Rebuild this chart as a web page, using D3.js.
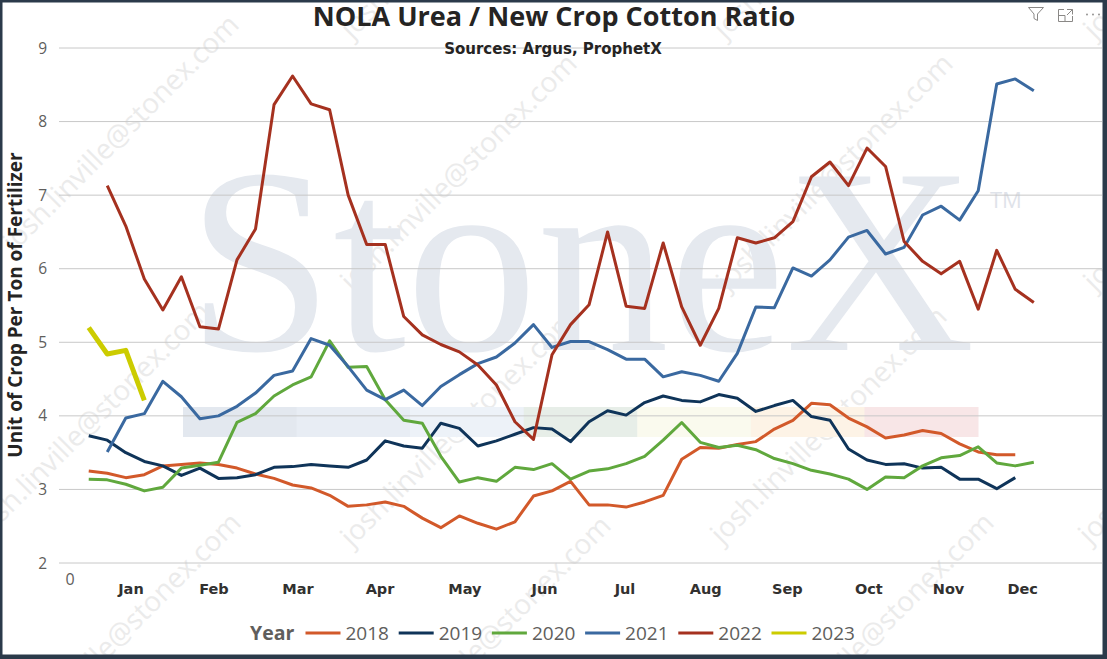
<!DOCTYPE html>
<html>
<head>
<meta charset="utf-8">
<title>NOLA Urea / New Crop Cotton Ratio</title>
<script src="https://cdn.jsdelivr.net/npm/d3@7"></script>
<style>
  body { margin: 0; background: #fff; }
  svg { display: block; font-family: "Segoe UI", "Open Sans", sans-serif; }
</style>
</head>
<body>
<script>
//weekly ratio per year, first value = week 1, null = no point that week
var years = ["2018", "2019", "2020", "2021", "2022", "2023"];
var colors = ["#d2592a", "#0f3459", "#60a83d", "#3a69a0", "#a5311f", "#cccc00"];

var v2018 = [3.25, 3.22, 3.16, 3.20, 3.32, 3.34, 3.36, 3.34, 3.29, 3.21, 3.15, 3.06, 3.02, 2.92, 2.77, 2.79, 2.83,
  2.77, 2.61, 2.48, 2.64, 2.54, 2.46, 2.56, 2.91, 2.98, 3.11, 2.79, 2.79, 2.76, 2.83, 2.92, 3.41, 3.57, 3.56,
  3.61, 3.65, 3.82, 3.94, 4.17, 4.15, 3.97, 3.85, 3.70, 3.74, 3.80, 3.76, 3.62, 3.51, 3.47, 3.47];
var v2019 = [3.73, 3.67, 3.50, 3.38, 3.32, 3.19, 3.29, 3.15, 3.16, 3.20, 3.30, 3.31, 3.34, 3.32, 3.30, 3.40, 3.66,
  3.59, 3.56, 3.90, 3.83, 3.59, 3.66, 3.75, 3.84, 3.82, 3.65, 3.92, 4.07, 4.01, 4.18, 4.27, 4.21, 4.19, 4.29,
  4.24, 4.06, 4.14, 4.21, 3.99, 3.94, 3.55, 3.40, 3.34, 3.35, 3.29, 3.30, 3.14, 3.14, 3.01, 3.16];
var v2020 = [3.14, 3.13, 3.07, 2.98, 3.03, 3.29, 3.33, 3.37, 3.91, 4.03, 4.27, 4.42, 4.53, 5.02, 4.66, 4.67, 4.22,
  3.94, 3.90, 3.45, 3.10, 3.16, 3.11, 3.30, 3.27, 3.35, 3.14, 3.25, 3.28, 3.35, 3.45, 3.67, 3.91, 3.64, 3.57,
  3.60, 3.54, 3.42, 3.35, 3.26, 3.21, 3.14, 3.00, 3.17, 3.16, 3.32, 3.43, 3.46, 3.58, 3.36, 3.32, 3.37];
var v2021 = [null, 3.51, 3.97, 4.03, 4.47, 4.26, 3.96, 4.00, 4.13, 4.31, 4.55, 4.61, 5.05, 4.96, 4.67, 4.35, 4.22,
  4.35, 4.14, 4.40, 4.56, 4.71, 4.80, 4.99, 5.24, 4.93, 5.01, 5.01, 4.90, 4.77, 4.77, 4.53, 4.60, 4.55, 4.47,
  4.85, 5.48, 5.47, 6.01, 5.90, 6.12, 6.43, 6.52, 6.20, 6.29, 6.73, 6.85, 6.66, 7.06, 8.51, 8.58, 8.42];
var v2022 = [null, 7.13, 6.58, 5.86, 5.44, 5.89, 5.21, 5.18, 6.12, 6.54, 8.23, 8.62, 8.24, 8.16, 7.00, 6.33, 6.33,
  5.35, 5.10, 4.97, 4.87, 4.69, 4.42, 3.92, 3.68, 4.83, 5.24, 5.51, 6.50, 5.49, 5.46, 6.35, 5.48, 4.96, 5.46,
  6.42, 6.35, 6.42, 6.64, 7.25, 7.45, 7.13, 7.64, 7.39, 6.37, 6.10, 5.93, 6.10, 5.45, 6.25, 5.72, 5.54];
var v2023 = [5.20, 4.84, 4.89, 4.21];
var series = [v2018, v2019, v2020, v2021, v2022, v2023];

//axis labels (months sit at fractional week positions)
var monthLabels = ["Jan", "Feb", "Mar", "Apr", "May", "Jun", "Jul", "Aug", "Sep", "Oct", "Nov", "Dec"];
var monthWeeks = [3.28, 7.76, 12.29, 16.72, 21.3, 25.6, 29.94, 34.3, 38.7, 43.1, 47.4, 51.4];
var yTicks = [2, 3, 4, 5, 6, 7, 8, 9];

//faint e-mail watermark start points
var stamps = [[352, 40], [725, 40], [1095, 40],
  [14, 253], [352, 292], [728, 292], [1095, 292],
  [-15, 540], [352, 548], [722, 545], [1090, 545],
  [16, 751], [386, 754], [769, 751]];
var bandColors = ["#e3e8ef", "#e8edf4", "#edf2f8", "#e7eee8", "#fafaee", "#fdf3e6", "#f8e6e7"];

document.addEventListener("DOMContentLoaded", init);

function init(){
  var width = 1107, height = 659;

  var svg = d3.select("body").append("svg")
    .attr("width", width)
    .attr("height", height);

  var x = d3.scaleLinear().domain([0, 52]).range([70.2, 1033.8]);
  var y = d3.scaleLinear().domain([2, 9]).range([563, 48]);

  /* WATERMARKS */
  var wm = svg.append("g");
  wm.selectAll("text.stamp")
    .data(stamps)
    .enter()
    .append("text")
    .attr("class", "stamp")
    .attr("transform", d => "translate(" + d[0] + "," + d[1] + ") rotate(-45)")
    .attr("font-size", 28)
    .attr("fill", "#ebebeb")
    .text("josh.linville@stonex.com");

  wm.append("text")
    .attr("x", 187)
    .attr("y", 350)
    .attr("font-family", "'Liberation Serif', 'DejaVu Serif', serif")
    .attr("font-size", 265)
    .attr("textLength", 788)
    .attr("lengthAdjust", "spacingAndGlyphs")
    .attr("fill", "#e5e9ef")
    .text("StoneX");

  wm.append("text")
    .attr("x", 990)
    .attr("y", 208)
    .attr("font-size", 22)
    .attr("fill", "#dfe3ea")
    .text("TM");

  var bandW = (978 - 183) / bandColors.length;
  wm.selectAll("rect.band")
    .data(bandColors)
    .enter()
    .append("rect")
    .attr("class", "band")
    .attr("x", (d, i) => 183 + i * bandW)
    .attr("y", 407)
    .attr("width", bandW + 0.5)
    .attr("height", 30)
    .attr("fill", d => d);

  /* GRID + AXES */
  svg.append("g")
    .selectAll("line")
    .data(yTicks)
    .enter()
    .append("line")
    .attr("x1", 59)
    .attr("x2", 1102)
    .attr("y1", d => y(d))
    .attr("y2", d => y(d))
    .attr("stroke", "#c8c8c8")
    .attr("stroke-width", 1);

  svg.append("g")
    .selectAll("text")
    .data(yTicks)
    .enter()
    .append("text")
    .attr("x", 47)
    .attr("y", d => y(d) + 5.5)
    .attr("text-anchor", "end")
    .attr("font-size", 15.5)
    .attr("fill", "#605e5c")
    .text(d => d);

  svg.append("text")
    .attr("x", x(0))
    .attr("y", 585)
    .attr("text-anchor", "middle")
    .attr("font-size", 16)
    .attr("fill", "#605e5c")
    .text("0");

  svg.append("g")
    .selectAll("text")
    .data(monthLabels)
    .enter()
    .append("text")
    .attr("x", (d, i) => x(monthWeeks[i]))
    .attr("y", 593.5)
    .attr("text-anchor", "middle")
    .attr("font-family", "'DejaVu Sans', Verdana, sans-serif")
    .attr("font-size", 14.5)
    .attr("font-weight", "bold")
    .attr("fill", "#323130")
    .text(d => d);

  svg.append("text")
    .attr("transform", "translate(22,305) rotate(-90)")
    .attr("text-anchor", "middle")
    .attr("font-size", 19)
    .attr("font-weight", "bold")
    .attr("fill", "#252423")
    .text("Unit of Crop Per Ton of Fertilizer");

  /* LINES */
  var line = d3.line()
    .defined(d => d != null)
    .x((d, i) => x(i + 1))
    .y(d => y(d));

  svg.append("g")
    .selectAll("path")
    .data(series)
    .enter()
    .append("path")
    .attr("d", line)
    .attr("fill", "none")
    .attr("stroke", (d, i) => colors[i])
    .attr("stroke-width", (d, i) => years[i] === "2023" ? 5 : 3)
    .attr("stroke-linejoin", "round");

  /* TITLE */
  svg.append("text")
    .attr("x", 554)
    .attr("y", 26)
    .attr("text-anchor", "middle")
    .attr("font-size", 27)
    .attr("font-weight", "bold")
    .attr("fill", "#252423")
    .text("NOLA Urea / New Crop Cotton Ratio");

  svg.append("text")
    .attr("x", 553)
    .attr("y", 54)
    .attr("text-anchor", "middle")
    .attr("font-family", "'DejaVu Sans', Verdana, sans-serif")
    .attr("font-size", 15)
    .attr("font-weight", "bold")
    .attr("fill", "#252423")
    .text("Sources: Argus, ProphetX");

  /* LEGEND */
  var legend = svg.append("g").attr("transform", "translate(0,640)");
  legend.append("text")
    .attr("x", 250)
    .attr("font-size", 19.5)
    .attr("font-weight", "bold")
    .attr("fill", "#605e5c")
    .text("Year");

  var item = legend.selectAll("g.item")
    .data(years)
    .enter()
    .append("g")
    .attr("class", "item")
    .attr("transform", (d, i) => "translate(" + (305.5 + i * 93.2) + ",0)");
  item.append("line")
    .attr("x1", 0).attr("x2", 35)
    .attr("y1", -7).attr("y2", -7)
    .attr("stroke", (d, i) => colors[i])
    .attr("stroke-width", 3);
  item.append("text")
    .attr("x", 40)
    .attr("font-size", 19)
    .attr("fill", "#605e5c")
    .text(d => d);

  /* VISUAL HEADER ICONS */
  var icons = svg.append("g")
    .attr("fill", "none")
    .attr("stroke", "#8a8886")
    .attr("stroke-width", 1);
  icons.append("path")
    .attr("d", "M1028.5,7.5 L1043.5,7.5 L1037.5,14 L1037.5,20.5 L1034,18.5 L1034,14 Z");
  icons.append("path")
    .attr("d", "M1064,9.5 L1058.5,9.5 L1058.5,21.5 L1072.5,21.5 L1072.5,16 M1058.5,15.5 L1065,15.5 L1065,21.5 M1067,9.5 L1072.5,9.5 L1072.5,14.5 M1072.5,9.5 L1067,15");
  icons.selectAll("circle")
    .data([1087, 1093, 1099])
    .enter()
    .append("circle")
    .attr("cx", d => d)
    .attr("cy", 14.5)
    .attr("r", 0.9)
    .attr("fill", "#8a8886")
    .attr("stroke", "none");

  /* FRAME */
  svg.append("rect")
    .attr("x", 1.25).attr("y", 1.25)
    .attr("width", width - 4.5).attr("height", height - 4.5)
    .attr("fill", "none")
    .attr("stroke", "#2b3a4a")
    .attr("stroke-width", 2.5);
  svg.append("rect").attr("x", width - 4).attr("y", 0).attr("width", 4).attr("height", height).attr("fill", "#2b3a4a");
  svg.append("rect").attr("x", 0).attr("y", height - 4).attr("width", width).attr("height", 4).attr("fill", "#2b3a4a");
}
</script>
</body>
</html>
